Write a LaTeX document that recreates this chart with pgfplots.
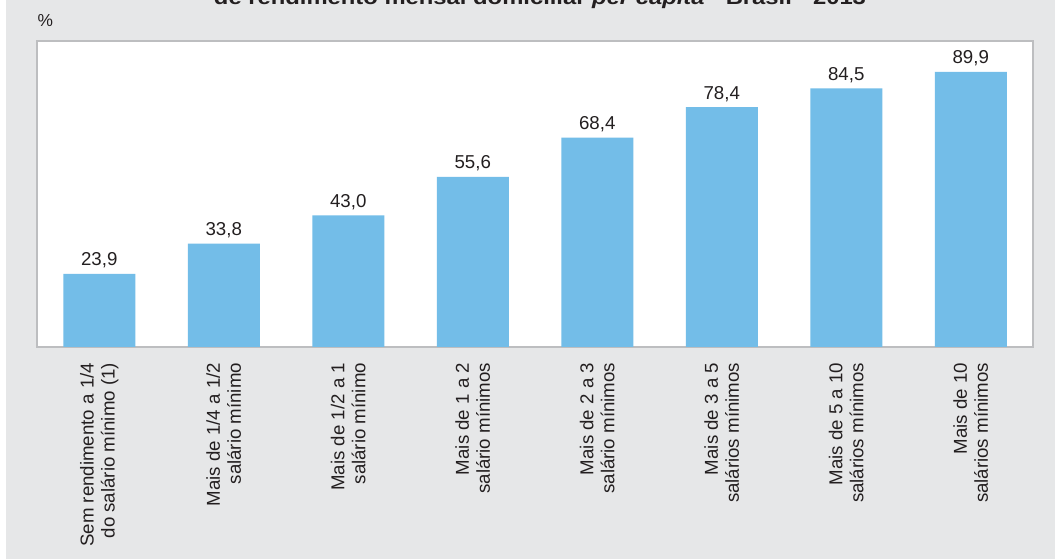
\documentclass[border=0pt]{standalone}
\usepackage{fontspec}
\setmainfont{Liberation Sans}
\usepackage{graphicx}
\usepackage{pgfplots}
\pgfplotsset{compat=1.18}
\definecolor{bgGrey}{HTML}{E6E7E8}
\definecolor{barBlue}{HTML}{73BDE8}
\definecolor{frameGrey}{HTML}{BDBEC0}
\definecolor{txt}{HTML}{231F20}
\begin{document}
\begin{tikzpicture}
% page = 1055 x 559 px, 1px = 0.75pt
\useasboundingbox (0,0) rectangle (791.25pt,419.25pt);
\fill[white] (0,0) rectangle (791.25pt,419.25pt);
\fill[bgGrey] (4.5pt,0) rectangle (791.25pt,419.25pt);
\node[anchor=base, text=txt, inner sep=0pt] at (405pt,415.5pt)
  {\resizebox{489pt}{\height}{\fontsize{15}{18}\selectfont\bfseries de rendimento mensal domiciliar \textit{per capita} - Brasil - 2013}};
\node[anchor=base west, text=txt, inner sep=0pt, font=\fontsize{13}{15}\selectfont] at (28pt,399pt) {\%};
\begin{axis}[
    at={(27.75pt,159pt)}, anchor=south west,
    scale only axis, width=747pt, height=229.5pt,
    axis background/.style={fill=white},
    axis line style={frameGrey, line width=1pt},
    ymin=0, ymax=100, xmin=-0.5, xmax=7.5,
    ytick=\empty,
    xtick=data, xtick style={draw=none},
    xticklabels={
        {Sem rendimento a 1/4\\do salário mínimo (1)},
        {Mais de 1/4 a 1/2\\salário mínimo},
        {Mais de 1/2 a 1\\salário mínimo},
        {Mais de 1 a 2\\salário mínimos},
        {Mais de 2 a 3\\salário mínimos},
        {Mais de 3 a 5\\salários mínimos},
        {Mais de 5 a 10\\salários mínimos},
        {Mais de 10\\salários mínimos}},
    xticklabel style={rotate=90, anchor=east, align=right, text=txt,
        font=\fontsize{14}{15.75}\selectfont, inner sep=0pt, xshift=-7.5pt},
    ybar, bar width=54pt,
    nodes near coords,
    every node near coord/.append style={text=txt, font=\fontsize{14}{16}\selectfont,
        anchor=base, yshift=6pt, inner sep=0pt},
    /pgf/number format/.cd, fixed, fixed zerofill, precision=1, use comma,
    assume math mode=true,
]
\addplot[fill=barBlue, draw=none] coordinates {
    (0,23.9) (1,33.8) (2,43.0) (3,55.6) (4,68.4) (5,78.4) (6,84.5) (7,89.9)
};
\end{axis}
\end{tikzpicture}
\end{document}
